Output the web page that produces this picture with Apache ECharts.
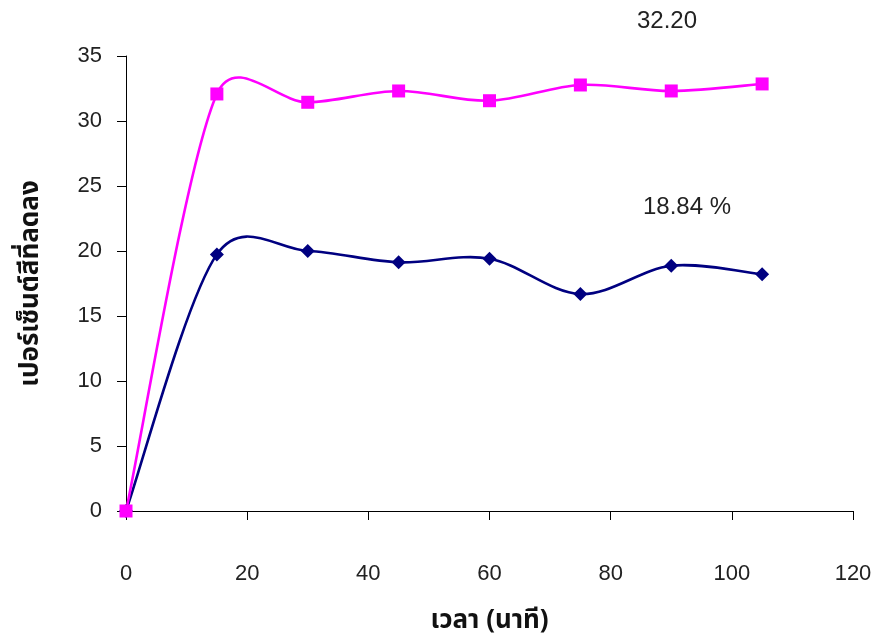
<!DOCTYPE html>
<html>
<head>
<meta charset="utf-8">
<script src="https://cdn.jsdelivr.net/npm/echarts@6/dist/echarts.min.js"></script>
<style>
html,body{margin:0;padding:0;background:#fff;}
#chart{width:879px;height:644px;}
</style>
</head>
<body>
<div id="chart"></div>
<script>
var times = [0, 15, 30, 45, 60, 75, 90, 105];
var pinkValues = [0, 32.08, 31.44, 32.31, 31.56, 32.77, 32.31, 32.85];
var navyValues = [0, 19.74, 20.0, 19.13, 19.41, 16.69, 18.87, 18.21];
var xTicks = [0, 20, 40, 60, 80, 100, 120];
var yTicks = [0, 5, 10, 15, 20, 25, 30, 35];
var xTitle = 'เวลา (นาที)';
var yTitle = 'เปอร์เซ็นต์สีที่ลดลง';
var pinkNote = '32.20';
var navyNote = '18.84 %';

function pairs(xs, ys) { return xs.map(function (x, i) { return [x, ys[i]]; }); }

// Excel-like smoothed segment (Bezier, 1/6 tangents, clamped to half segment length)
function smoothSegment(xs, ys, color) {
  return function (params, api) {
    var i = params.dataIndex;
    var n = xs.length;
    if (i >= n - 1) return null;
    function pt(j) { j = Math.max(0, Math.min(n - 1, j)); return api.coord([xs[j], ys[j]]); }
    var p0 = pt(i - 1), p1 = pt(i), p2 = pt(i + 1), p3 = pt(i + 2);
    var dx = p2[0] - p1[0], dy = p2[1] - p1[1];
    var half = Math.sqrt(dx * dx + dy * dy) / 2;
    function tangent(a, b) {
      var tx = (b[0] - a[0]) / 6, ty = (b[1] - a[1]) / 6;
      var len = Math.sqrt(tx * tx + ty * ty);
      if (len > half && len > 0) { tx *= half / len; ty *= half / len; }
      return [tx, ty];
    }
    var t1 = tangent(p0, p2), t2 = tangent(p1, p3);
    return {
      type: 'bezierCurve',
      shape: {
        x1: p1[0], y1: p1[1], x2: p2[0], y2: p2[1],
        cpx1: p1[0] + t1[0], cpy1: p1[1] + t1[1],
        cpx2: p2[0] - t2[0], cpy2: p2[1] - t2[1]
      },
      style: { stroke: color, lineWidth: 2.6, fill: null }
    };
  };
}

var chart = echarts.init(document.getElementById('chart'));
var labelFont = '"Liberation Sans", Arial, sans-serif';
var thaiFont = '"Noto Sans Thai", "Noto Sans", "DejaVu Sans", sans-serif';
chart.setOption({
  animation: false,
  backgroundColor: '#ffffff',
  grid: { left: 126, right: 26, top: 56, bottom: 133, containLabel: false },
  xAxis: {
    type: 'value', min: xTicks[0], max: xTicks[xTicks.length - 1], interval: xTicks[1] - xTicks[0],
    axisLine: { show: true, onZero: false, lineStyle: { color: '#000', width: 1 } },
    axisTick: { show: true, inside: false, length: 9, lineStyle: { color: '#000' } },
    splitLine: { show: false },
    axisLabel: { margin: 52, color: '#222', fontSize: 22, fontFamily: labelFont },
    name: xTitle, nameLocation: 'middle', nameGap: 99,
    nameTextStyle: { fontSize: 26, fontWeight: 'bold', color: '#111', fontFamily: thaiFont }
  },
  yAxis: {
    type: 'value', min: yTicks[0], max: yTicks[yTicks.length - 1], interval: yTicks[1] - yTicks[0],
    axisLine: { show: true, onZero: false, lineStyle: { color: '#000', width: 1 } },
    axisTick: { show: true, inside: false, length: 9, lineStyle: { color: '#000' } },
    splitLine: { show: false },
    axisLabel: { margin: 24, color: '#222', fontSize: 22, fontFamily: labelFont },
    name: yTitle, nameLocation: 'middle', nameGap: 80, nameRotate: 90,
    nameTextStyle: { fontSize: 26, fontWeight: 'bold', color: '#111', fontFamily: thaiFont }
  },
  series: [
    {
      type: 'custom', data: pairs(times, navyValues), renderItem: smoothSegment(times, navyValues, '#000080'),
      clip: false, z: 2, silent: true
    },
    {
      type: 'custom', data: pairs(times, pinkValues), renderItem: smoothSegment(times, pinkValues, '#FF00FF'),
      clip: false, z: 3, silent: true
    },
    {
      type: 'scatter', data: pairs(times, navyValues),
      symbol: 'diamond', symbolSize: 14,
      itemStyle: { color: '#000080', opacity: 1 }, z: 4
    },
    {
      type: 'scatter', data: pairs(times, pinkValues),
      symbol: 'rect', symbolSize: 13,
      itemStyle: { color: '#FF00FF', opacity: 1 }, z: 5
    }
  ],
  graphic: [
    { type: 'text', left: 637, top: 9, style: { text: pinkNote, fill: '#222', font: '24px ' + labelFont } },
    { type: 'text', left: 643, top: 195, style: { text: navyNote, fill: '#222', font: '24px ' + labelFont } }
  ]
});
</script>
</body>
</html>
